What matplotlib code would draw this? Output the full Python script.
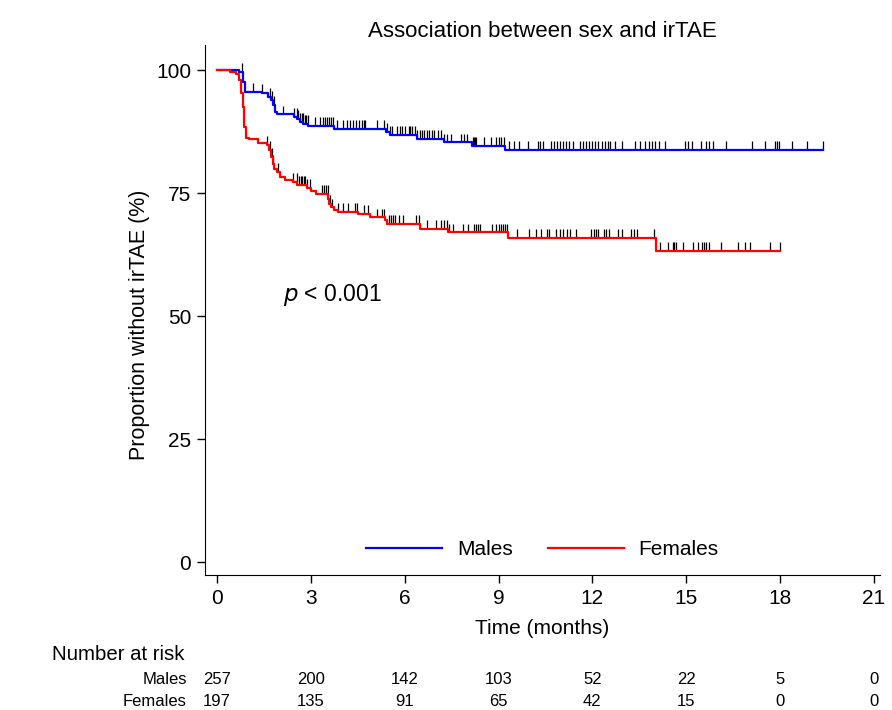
import numpy as np
import matplotlib
matplotlib.use("Agg")
import matplotlib.pyplot as plt
import matplotlib.transforms as mtransforms

plt.rcParams['font.family'] = ['Liberation Sans', 'DejaVu Sans']

# Kaplan-Meier steps (time in months, proportion in %)
males_t = [0, 0.70, 0.82, 0.88, 1.42, 1.63, 1.72, 1.79, 1.86, 1.90,
           2.47, 2.56, 2.65, 2.76, 2.92, 3.74, 5.40, 5.52, 6.38, 7.26, 8.14, 9.21, 19.39]
males_s = [100, 99.6, 97.5, 95.6, 95.3, 94.6, 93.9, 92.9, 91.5, 91.0,
           90.5, 90.0, 89.5, 89.0, 88.7, 88.1, 87.5, 86.8, 86.0, 85.3, 84.55, 83.7, 83.7]

females_t = [0, 0.40, 0.59, 0.70, 0.77, 0.83, 0.86, 0.91, 1.02, 1.31, 1.58, 1.66, 1.72,
             1.77, 1.82, 1.90, 2.00, 2.17, 2.41, 2.56, 2.86, 2.99, 3.16, 3.56, 3.59,
             3.64, 3.74, 3.88, 4.49, 4.90, 5.38, 5.44, 6.48, 7.37, 9.30, 14.04, 18.0]
females_s = [100, 99.65, 99.3, 98.0, 95.3, 92.5, 88.5, 86.3, 85.9, 85.2, 84.75, 83.7, 82.4,
             81.0, 79.8, 79.3, 78.2, 77.6, 77.2, 76.6, 76.0, 75.4, 74.9, 73.9, 72.8,
             72.1, 71.5, 71.2, 70.7, 70.06, 69.5, 68.7, 67.8, 67.0, 65.9, 63.3, 63.3]

# censoring times
males_cens = [0.79, 1.15, 1.42, 1.68, 1.74, 1.81, 2.11, 2.47, 2.54, 2.60, 2.66, 2.70,
              2.75, 2.80, 2.85, 2.91, 3.13, 3.29, 3.37, 3.45, 3.50, 3.58, 3.65, 3.72,
              3.83, 4.04, 4.15, 4.26, 4.35, 4.45, 4.55, 4.62, 4.70, 4.74, 5.12, 5.33,
              5.44, 5.52, 5.60, 5.76, 5.84, 5.92, 6.02, 6.13, 6.17, 6.24, 6.32, 6.40,
              6.48, 6.55, 6.62, 6.70, 6.78, 6.86, 6.95, 7.05, 7.15, 7.26, 7.36, 7.47,
              7.80, 7.90, 8.00, 8.17, 8.20, 8.24, 8.28, 8.54, 8.76, 8.92, 9.00, 9.08,
              9.19, 9.35, 9.50, 9.67, 9.94, 10.26, 10.34, 10.42, 10.69, 10.78, 10.86,
              10.95, 11.05, 11.15, 11.25, 11.39, 11.60, 11.70, 11.80, 11.90, 12.00,
              12.10, 12.19, 12.30, 12.40, 12.50, 12.56, 12.72, 12.94, 13.35, 13.53,
              13.69, 13.80, 13.90, 14.00, 14.12, 14.31, 14.95, 15.05, 15.19, 15.49,
              15.62, 15.73, 15.86, 16.26, 17.12, 17.51, 17.85, 17.90, 17.96, 18.40,
              18.87, 19.39]
females_cens = [1.58, 1.68, 1.74, 1.79, 1.93, 2.43, 2.54, 2.63, 2.68, 2.72, 2.77, 2.81,
                2.86, 2.97, 3.35, 3.42, 3.48, 3.53, 3.61, 3.67, 3.88, 4.02, 4.17, 4.42,
                4.47, 4.71, 4.82, 5.12, 5.28, 5.35, 5.49, 5.56, 5.63, 5.70, 5.81, 5.94,
                6.37, 6.45, 6.70, 6.99, 7.17, 7.25, 7.34, 7.42, 7.53, 7.85, 8.01, 8.20,
                8.27, 8.34, 8.41, 8.78, 8.92, 9.01, 9.08, 9.14, 9.20, 9.27, 9.58, 9.99,
                10.21, 10.37, 10.55, 10.60, 10.85, 10.95, 11.06, 11.20, 11.28, 11.49,
                11.95, 12.05, 12.12, 12.19, 12.38, 12.45, 12.53, 12.81, 12.96, 13.24,
                13.33, 13.42, 13.96, 14.15, 14.42, 14.57, 14.62, 14.68, 14.89, 15.22,
                15.38, 15.50, 15.58, 15.65, 15.73, 16.13, 16.66, 16.88, 17.03, 17.69, 18.0]

risk_times = [0, 3, 6, 9, 12, 15, 18, 21]
males_risk = [257, 200, 142, 103, 52, 22, 5, 0]
females_risk = [197, 135, 91, 65, 42, 15, 0, 0]


def surv_at(times, surv, t):
    idx = np.searchsorted(times, t, side='right') - 1
    return np.asarray(surv)[idx]


fig = plt.figure(figsize=(8.92, 7.10), dpi=100)
ax = fig.add_axes([0.2298, 0.190, 0.7567, 0.7466])

tick_h = 1.8
for cens, tt, ss in [(males_cens, males_t, males_s), (females_cens, females_t, females_s)]:
    base = surv_at(tt, ss, np.array(cens))
    ax.vlines(cens, base, base + tick_h, color='black', lw=0.9, zorder=2)

ax.step(males_t, males_s, where='post', color='#0000ff', lw=1.6, label='Males', zorder=3)
ax.step(females_t, females_s, where='post', color='#ff0000', lw=1.6, label='Females', zorder=3)

ax.set_xlim(-0.39, 21.2)
ax.set_ylim(-2.64, 105.1)
ax.set_xticks(risk_times)
ax.set_yticks([0, 25, 50, 75, 100])
ax.tick_params(axis='both', labelsize=15, length=6, width=1, direction='out', pad=4)
ax.spines['top'].set_visible(False)
ax.spines['right'].set_visible(False)
ax.set_xlabel('Time (months)', fontsize=15, labelpad=8)
ax.set_ylabel('Proportion without irTAE (%)', fontsize=15.5)
ax.yaxis.set_label_coords(-0.082, 0.472)
ax.set_title('Association between sex and irTAE', fontsize=16, pad=6)

ax.text(2.1, 54.3, r'$p$' + ' < 0.001', fontsize=16.5, va='center', ha='left')

ax.legend(loc='lower center', bbox_to_anchor=(0.5, -0.005), ncol=2, frameon=False,
          fontsize=15, handlelength=3.65, columnspacing=1.7, handletextpad=0.7)

# number at risk table
trans = mtransforms.blended_transform_factory(ax.transData, fig.transFigure)
fig.text(52 / 892, 1 - 655 / 710, 'Number at risk', fontsize=14.7, va='center', ha='left')
fig.text(187 / 892, 1 - 680 / 710, 'Males', fontsize=12, va='center', ha='right')
fig.text(187 / 892, 1 - 702 / 710, 'Females', fontsize=12, va='center', ha='right')
for t, m, f in zip(risk_times, males_risk, females_risk):
    ax.text(t, 1 - 680 / 710, str(m), transform=trans, fontsize=12, ha='center', va='center')
    ax.text(t, 1 - 702 / 710, str(f), transform=trans, fontsize=12, ha='center', va='center')

fig.savefig('out.png', dpi=100)
